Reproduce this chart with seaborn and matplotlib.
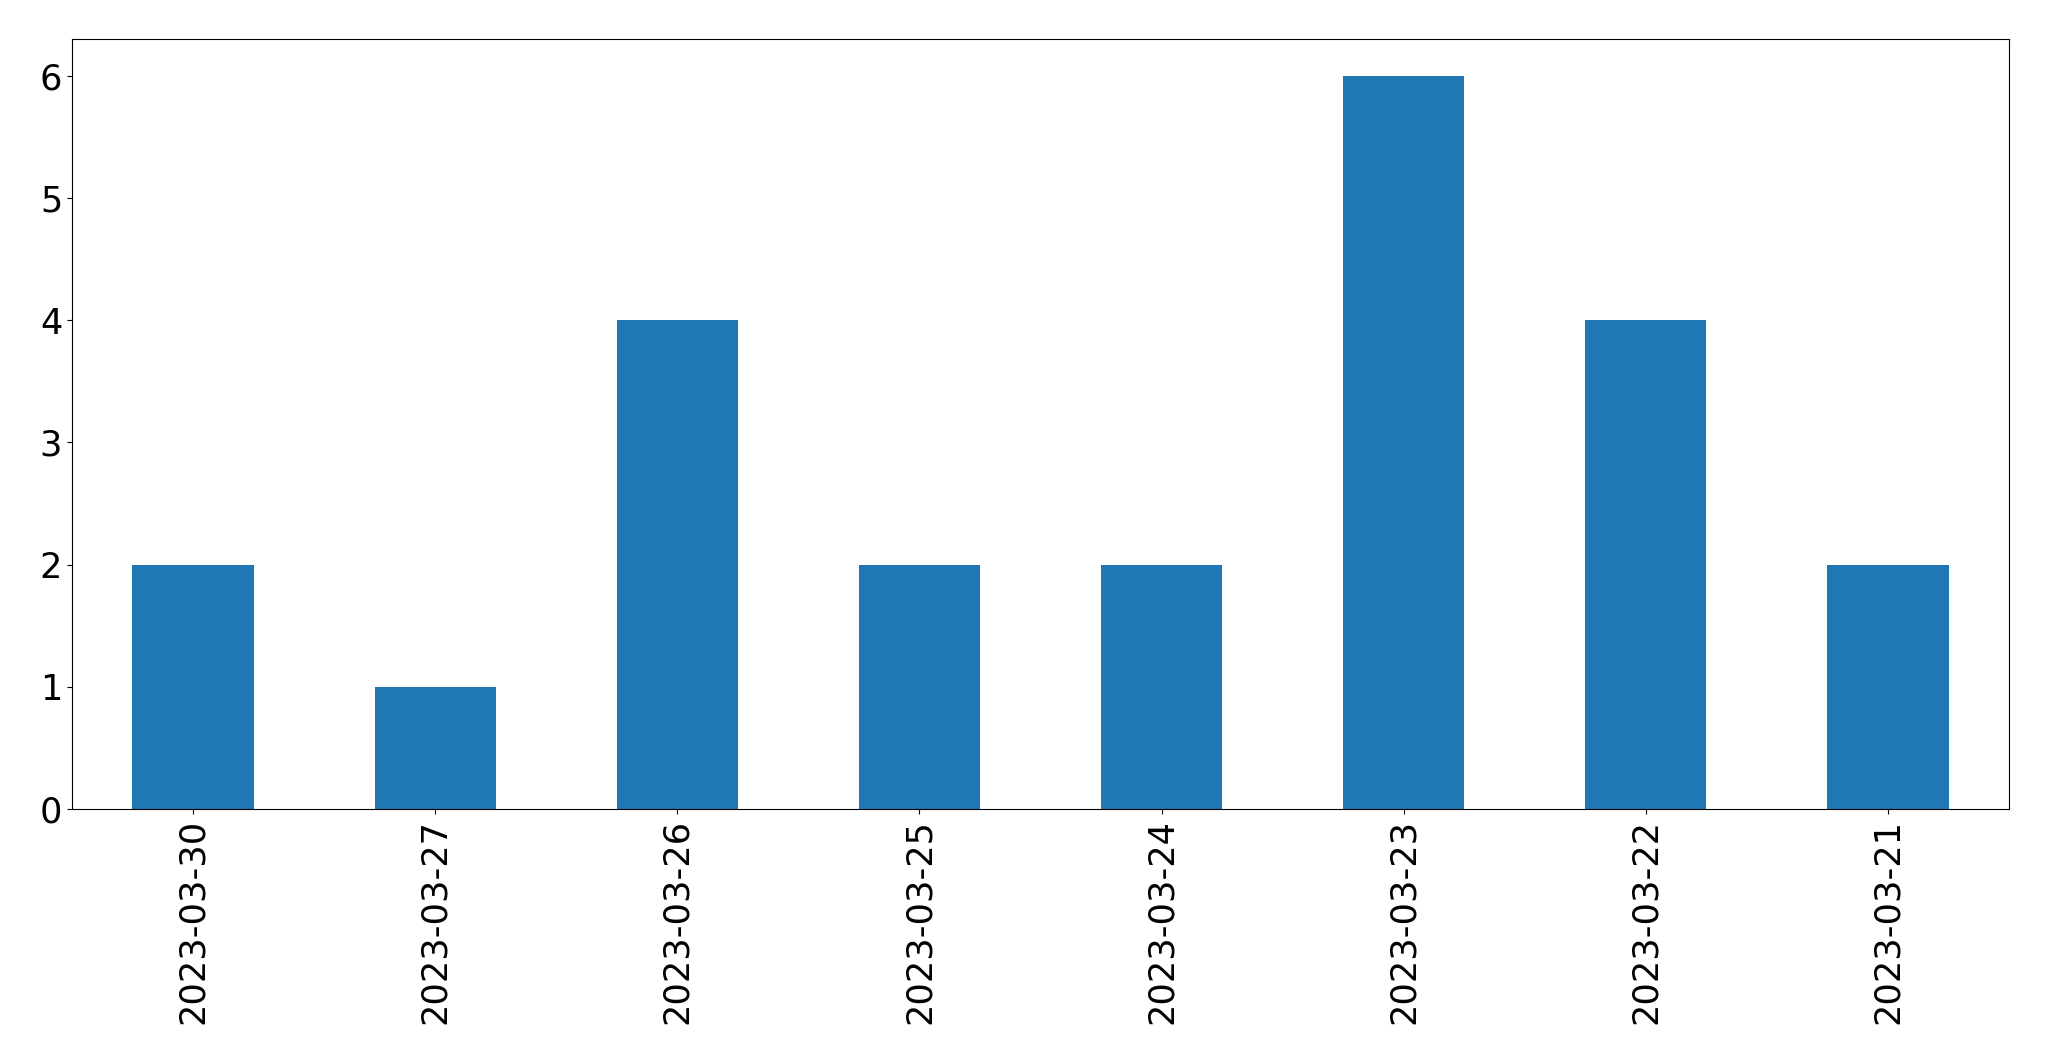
import matplotlib
matplotlib.use('Agg')
import matplotlib.pyplot as plt
import seaborn as sns
import pandas as pd

dates = ['2023-03-30', '2023-03-27', '2023-03-26', '2023-03-25',
         '2023-03-24', '2023-03-23', '2023-03-22', '2023-03-21']
counts = [2, 1, 4, 2, 2, 6, 4, 2]

df = pd.DataFrame({'date': dates, 'count': counts})

fig = plt.figure(figsize=(20.49, 10.61), dpi=100)
ax = fig.add_axes([0.0351, 0.2375, 0.9454, 0.7257])
sns.barplot(data=df, x='date', y='count', color='#1f77b4', saturation=1,
            width=0.5, ax=ax)
ax.set_xlim(-0.5, len(dates) - 0.5)
ax.set_ylim(0, max(counts) * 1.05)
ax.set_xlabel('')
ax.set_ylabel('')
ax.tick_params(axis='both', labelsize=25.3)
ax.tick_params(axis='x', labelrotation=90)
fig.savefig('out.png', dpi=100)
